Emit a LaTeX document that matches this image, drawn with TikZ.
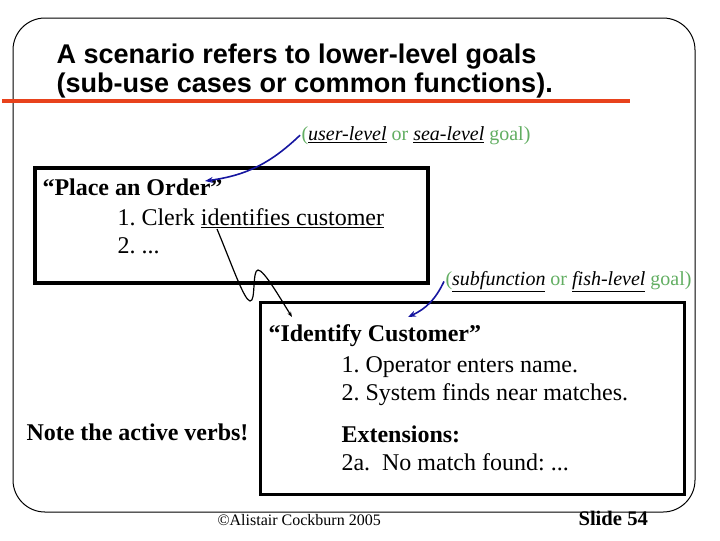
\documentclass[tikz,border=0pt]{standalone}
\usepackage{fontspec}
\setmainfont{Liberation Serif}
\setsansfont{Liberation Sans}
\usetikzlibrary{arrows.meta}

\definecolor{rulered}{RGB}{232,66,28}
\definecolor{goalgreen}{RGB}{98,174,98}
\definecolor{arrowblue}{RGB}{22,22,160}

\tikzset{every picture/.style={line width=0.75pt}}
\tikzset{
  txt/.style={anchor=base west, inner sep=0.75pt, align=left},
  body/.style={txt, font=\fontsize{18}{21}\selectfont},
  heading/.style={txt, font=\fontsize{20.3}{24}\selectfont\sffamily\bfseries},
  goal/.style={txt, text=goalgreen, font=\fontsize{15}{18}\selectfont},
  goalarrow/.style={color=arrowblue, line width=1.2pt, -{Stealth[length=6pt,width=4.5pt]}},
  squiggle/.style={line width=0.9pt, -{Stealth[length=4pt,width=3pt]}},
}
\newcommand{\goalword}[1]{{\color{black}\underline{\textit{#1}}}}

\begin{document}
\frenchspacing
\begin{tikzpicture}[x=0.75pt,y=0.75pt,yscale=-1,xscale=1]
\path [use as bounding box] (0,0) rectangle (720,540);

%Shape: Rounded Rectangle [slide frame]
\draw  [rounded corners=24] (13,18) rectangle (695,512) ;
%Straight Lines [title rule]
\draw  [color=rulered, line width=3pt] (2,101) -- (630,101) ;
%Shape: Rectangle [place order box]
\draw  [line width=3pt] (35,168) rectangle (428,283) ;
%Shape: Rectangle [identify customer box]
\draw  [line width=2.25pt] (260,302) rectangle (684,494) ;

% Text Node
\node [heading] (title1) at (55,63) {A scenario refers to lower-level goals};
% Text Node
\node [heading] (title2) at (55,92) {(sub-use cases or common functions).};

% Text Node
\node [body] (order) at (41,195) {\textbf{“Place an Order”}};
% Text Node
\node [body] (clerk) at (116,225) {1. Clerk \underline{identifies customer}};
% Text Node
\node [body] (more1) at (116,253) {2. ...};

% Text Node
\node [goal] (usergoal) at (300,140) {(\goalword{user-level} or \goalword{sea-level} goal)};
% Text Node
\node [goal] (subgoal) at (444,285) {(\goalword{subfunction} or \goalword{fish-level} goal)};

% Text Node
\node [body] (ident) at (267,341) {\textbf{“Identify Customer”}};
% Text Node
\node [body] (enter) at (340,372) {1. Operator enters name.};
% Text Node
\node [body] (finds) at (340,400) {2. System finds near matches.};
% Text Node
\node [body] (ext) at (340,442) {\textbf{Extensions:}};
% Text Node
\node [body] (nomatch) at (340,470) {2a.\ \ No match found: ...};

% Text Node
\node [body] (note) at (25,440) {\textbf{Note the active verbs!}};

% Text Node
\node [txt, font=\fontsize{12}{14}\selectfont] (copy) at (216,525) {©Alistair Cockburn 2005};
% Text Node
\node [txt, font=\fontsize{15.5}{18}\selectfont\bfseries] (slide) at (577,525) {Slide 54};

%Curve Lines [goal arrows]
\coordinate (orderend) at (205,181);
\coordinate (identend) at (408,317);
\draw [goalarrow] (usergoal.west) to[bend right=18] (orderend) ;
\draw [goalarrow] (subgoal.west) to[bend right=20] (identend) ;

%Curve Lines [call to sub use case]
\coordinate (callstart) at (217,229);
\coordinate (callend) at (292,317);
\draw [squiggle] (callstart) .. controls (232,265) and (244,300) .. (250,301)
  .. controls (256,302) and (252,270) .. (258,270)
  .. controls (264,270) and (280,298) .. (callend) ;

\end{tikzpicture}
\end{document}
